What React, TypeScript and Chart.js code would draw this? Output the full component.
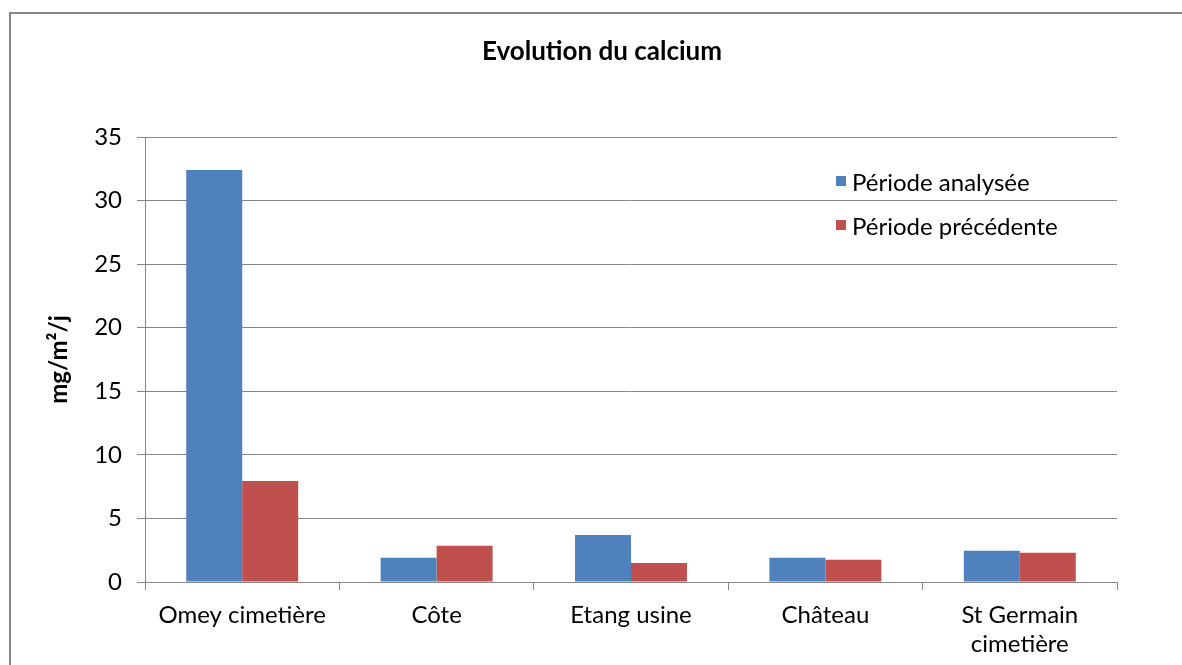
import React, { useEffect, useRef } from "react";
import { Chart, registerables } from "chart.js";

Chart.register(...registerables);

const categories: (string | string[])[] = [
  "Omey cimetière",
  "Côte",
  "Etang usine",
  "Château",
  ["St Germain", "cimetière"],
];
const seriesNames = ["Période analysée", "Période précédente"];
const periodeAnalysee = [32.4, 1.9, 3.7, 1.9, 2.45];
const periodePrecedente = [7.95, 2.85, 1.5, 1.75, 2.3];
const seriesColors = ["#4F81BD", "#C0504D"];
const yTicks = { min: 0, max: 35, step: 5 };
const chartTitle = "Evolution du calcium";
const yTitle = "mg/m²/j";

const FONT = "Lato";
const GRID = "#868686";

export default function App() {
  const canvasRef = useRef<HTMLCanvasElement | null>(null);

  useEffect(() => {
    document.body.style.margin = "0";
    const canvas = canvasRef.current;
    if (!canvas) return;
    const chart = new Chart(canvas, {
      type: "bar",
      data: {
        labels: categories,
        datasets: [
          {
            label: seriesNames[0],
            data: periodeAnalysee,
            backgroundColor: seriesColors[0],
            categoryPercentage: 0.576,
            barPercentage: 1,
          },
          {
            label: seriesNames[1],
            data: periodePrecedente,
            backgroundColor: seriesColors[1],
            categoryPercentage: 0.576,
            barPercentage: 1,
          },
        ],
      },
      options: {
        animation: false,
        responsive: false,
        maintainAspectRatio: false,
        layout: { padding: { left: 0, right: 65, top: 137, bottom: 0 } },
        plugins: {
          legend: { display: false },
          tooltip: { enabled: false },
          title: { display: false },
        },
        scales: {
          x: {
            grid: {
              display: true,
              drawOnChartArea: false,
              drawTicks: true,
              tickLength: 8,
              color: GRID,
              offset: true,
            },
            border: { display: true, color: GRID, width: 1 },
            ticks: {
              color: "#000",
              font: { family: FONT, size: 24, lineHeight: 1.2 },
              padding: 10.6,
              maxRotation: 0,
              autoSkip: false,
            },
            afterFit: (scale: any) => {
              scale.height = 83;
            },
          },
          y: {
            min: yTicks.min,
            max: yTicks.max,
            grid: {
              color: GRID,
              tickLength: 8,
              drawTicks: true,
            },
            border: { display: true, color: GRID, width: 1 },
            ticks: {
              stepSize: yTicks.step,
              color: "#000",
              font: { family: FONT, size: 24 },
              padding: 15,
            },
            title: {
              display: true,
              text: yTitle,
              color: "#000",
              font: { family: FONT, size: 24, weight: "bold", lineHeight: 1.2 },
              padding: { top: 45, bottom: 0 },
            },
            afterFit: (scale: any) => {
              scale.width = 145;
            },
          },
        },
      },
    });
    return () => chart.destroy();
  }, []);

  const legendItem = (i: number, top: number) => (
    <div
      key={i}
      style={{
        position: "absolute",
        left: 836,
        top: top - 15,
        height: 30,
        display: "flex",
        alignItems: "center",
        fontFamily: FONT,
        fontSize: 24,
        color: "#000",
        whiteSpace: "nowrap",
      }}
    >
      <span
        style={{
          display: "inline-block",
          width: 10,
          height: 10,
          background: seriesColors[i],
          marginRight: 6,
        }}
      />
      <span>{seriesNames[i]}</span>
    </div>
  );

  return (
    <div
      style={{
        position: "relative",
        width: 1182,
        height: 665,
        overflow: "hidden",
        background: "#fff",
      }}
    >
      <canvas
        ref={canvasRef}
        width={1182}
        height={665}
        style={{ position: "absolute", left: 0, top: 0, width: 1182, height: 665 }}
      />
      <div
        style={{
          position: "absolute",
          left: 9,
          top: 12,
          width: 1300,
          height: 800,
          borderLeft: `2px solid ${GRID}`,
          borderTop: `2px solid ${GRID}`,
          pointerEvents: "none",
        }}
      />
      <div
        style={{
          position: "absolute",
          left: 0,
          top: 35,
          width: 1204,
          height: 30,
          lineHeight: "30px",
          textAlign: "center",
          fontFamily: FONT,
          fontWeight: "bold",
          fontSize: 26,
          color: "#000",
          whiteSpace: "nowrap",
        }}
      >
        {chartTitle}
      </div>
      {legendItem(0, 181)}
      {legendItem(1, 225)}
    </div>
  );
}
